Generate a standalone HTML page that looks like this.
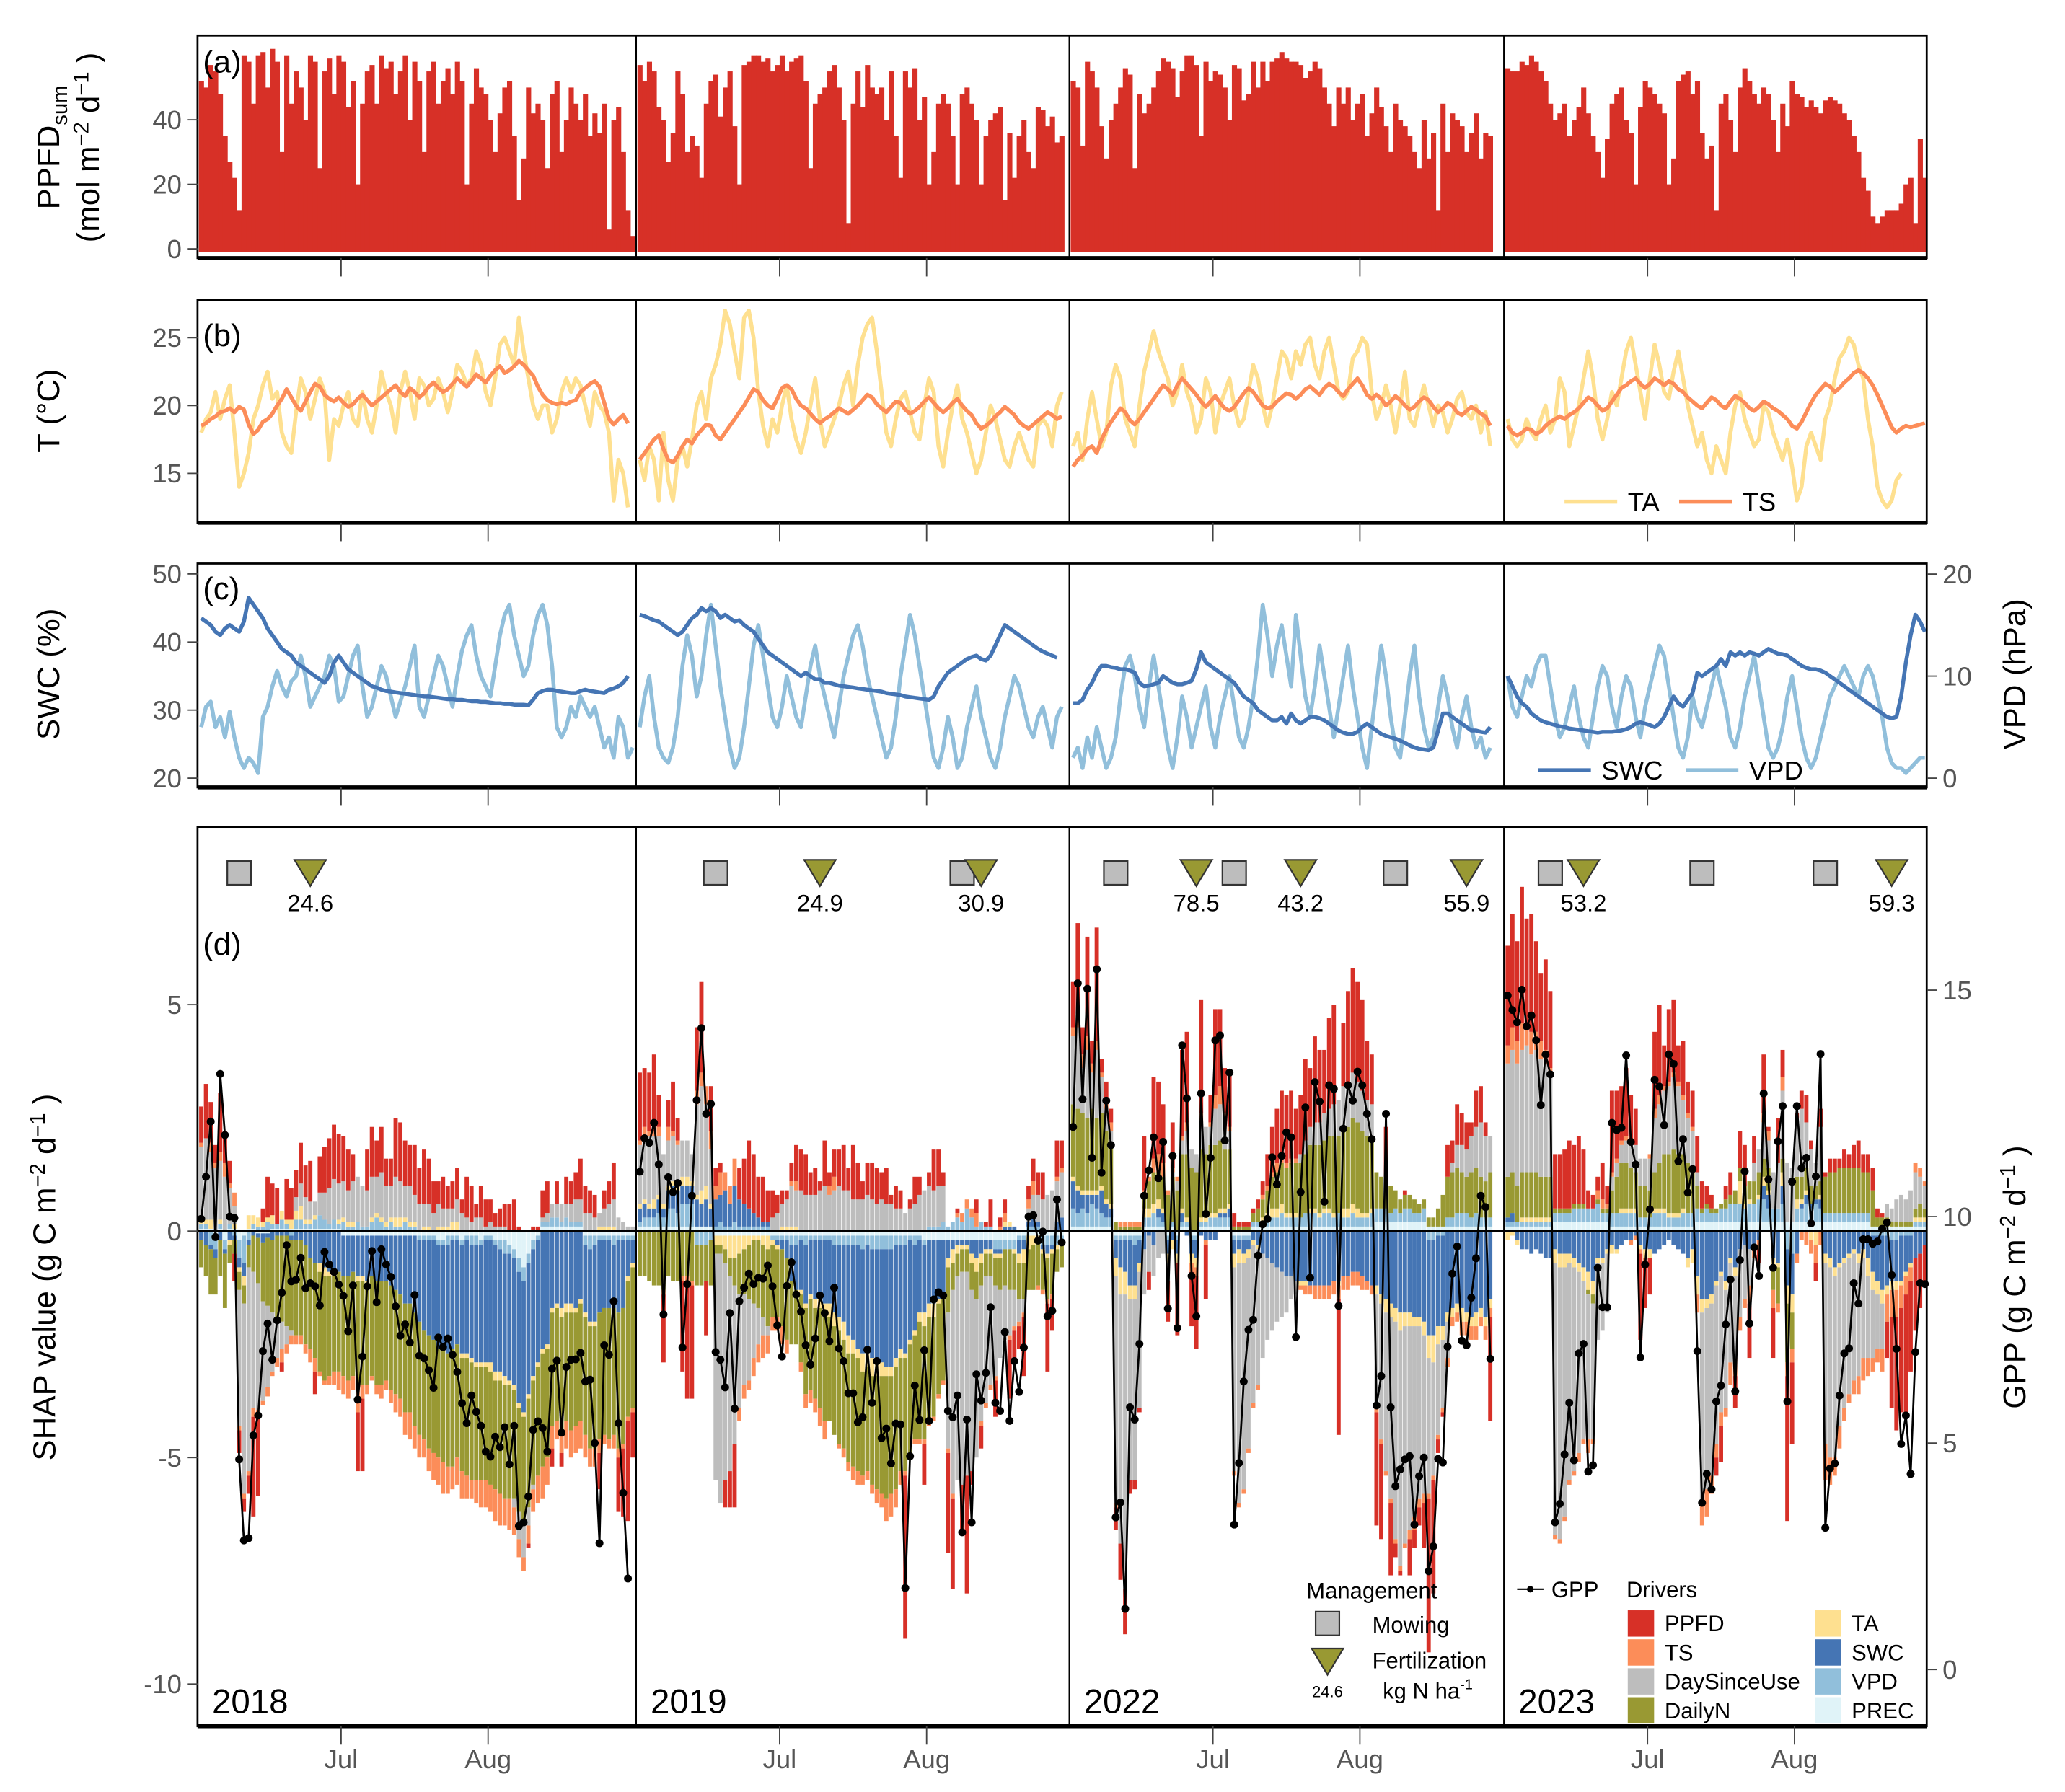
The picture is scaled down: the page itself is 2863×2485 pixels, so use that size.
<!DOCTYPE html>
<html><head><meta charset="utf-8"><style>
html,body{margin:0;padding:0;background:#fff}
svg{display:block;font-family:"Liberation Sans",Arial,sans-serif}
</style></head><body>
<svg id="chart" xmlns="http://www.w3.org/2000/svg" width="2863" height="2485" viewBox="0 0 1568 1361"></svg>
<script>
// ---------- DATA ----------
const years=['2018','2019','2022','2023'];
const monthTicks=['Jul','Aug'];
const monthTickDays=[30,61];
const ppfdTicks=[0,20,40];
const tTicks=[15,20,25];
const swcTicks=[20,30,40,50];
const vpdTicks=[0,10,20];
const shapTicks=[-10,-5,0,5];
const gppTicks=[0,5,10,15];
const GPP_BASE=9.68;

const ppfd18=[52,50,57,55,48,35,27,22,12,60,58,45,60,61,50,62,58,30,60,45,55,50,40,60,58,25,55,59,48,60,58,44,52,20,45,55,57,45,60,56,58,48,55,60,40,58,52,30,55,58,45,52,56,48,58,52,20,45,56,50,48,40,30,42,50,52,35,15,28,50,42,45,40,25,48,52,30,40,50,45,40,48,35,42,36,45,6,40,44,30,12,4];
const ppfd19=[57,52,58,55,44,40,27,36,55,48,30,35,32,22,45,52,54,41,50,55,38,20,57,58,60,60,58,59,55,57,60,55,58,59,60,52,25,45,48,50,55,57,50,40,8,45,55,44,57,50,48,50,40,55,35,22,55,50,56,40,47,20,30,45,48,45,35,20,48,50,45,40,20,35,40,42,44,15,36,22,35,40,30,25,44,43,38,41,33,35];
const ppfd22=[52,50,32,58,55,50,38,28,40,45,50,56,54,25,48,42,45,50,55,59,58,56,47,55,60,60,57,35,58,52,55,54,50,40,57,56,46,48,58,50,58,52,58,59,61,59,58,58,57,53,55,58,56,50,45,38,50,45,50,40,45,48,35,42,50,44,38,30,45,40,38,35,30,25,40,28,36,12,45,30,42,40,38,30,36,42,28,36,35];
const ppfd23=[56,55,55,58,57,60,58,55,52,45,40,42,45,35,40,44,50,42,35,30,22,34,45,48,50,40,36,20,44,52,50,48,45,42,20,28,52,54,55,48,52,36,28,32,12,45,48,40,30,50,56,52,48,45,50,48,40,30,45,38,52,48,47,44,46,44,42,46,47,46,45,42,40,35,30,22,18,10,8,10,12,12,12,14,20,22,8,34,22];

const ta18=[18,19,19.5,21,19,20.5,21.5,18,14,15,16.5,19,20,21.5,22.5,20.5,21,18,17,16.5,19.5,22,21,19,20.5,22,21,16,19,18.5,20,21,19,18.5,21,19,18,20,22.5,21,20,18,21,22.5,21,19,22,21.5,20,20.5,22,21,19.5,21,23,22.5,21.5,22,24,23,21,20,22,24.5,25,24,23,26.5,24,22,20,19,20,20,18,19,21,22,21,22,21.5,20,18.5,21,20,19.5,18,13,16,15,12.5];
const ts18=[18.5,18.7,19.0,19.2,19.5,19.6,19.8,19.5,19.9,19.7,18.6,17.9,18.2,18.8,19.0,19.4,20.0,20.5,21.2,20.6,20.0,19.6,20.3,21.0,21.6,21.4,20.8,20.5,20.3,20.6,20.2,19.9,20.1,20.5,20.8,20.4,20.0,20.3,20.6,20.9,21.2,21.5,21.0,20.7,21.3,21.0,20.6,20.9,21.4,21.7,21.3,21.0,21.2,21.6,22.0,21.7,21.4,21.8,22.3,22.0,21.7,22.2,22.6,22.9,22.4,22.6,22.9,23.3,23.0,22.6,22.2,21.4,20.8,20.4,20.2,20.1,20.2,20.1,20.3,20.4,21.0,21.3,21.6,21.8,21.4,20.2,19.0,18.6,19.0,19.3,18.7];
const ta19=[16,14.5,17,16,13,18,14.5,13,16,17,15.5,17.5,20,21,19,22,23,24.5,27,26,24,22,26.5,27,25,21,18.5,17,19,18,20,21.5,19,17.5,16.5,18,20,22,19,17,18,19,20,21.5,22.5,20,23,25,26,26.5,24,21,18,17,19,20.5,21,19.5,18,17.5,20,22,21,17,15.5,18,20,21.5,19,18,16.5,15,16,18,20,19,17.5,16,15.5,17,18,17,16,15.5,18.5,19,18.5,17,20,21];
const ts19=[16,16.5,17,17.5,17.8,16.8,16,15.8,16.3,17.0,17.5,17.2,17.8,18.2,18.6,18.5,17.8,17.5,18.0,18.5,19.0,19.5,20.0,20.6,21.2,21.0,20.4,20.0,19.8,20.5,21.3,21.5,21.2,20.5,20.0,19.8,19.4,19.0,18.7,19.0,19.2,19.5,19.8,19.6,19.4,19.7,20.0,20.4,20.8,20.6,20.1,19.8,19.5,19.9,20.3,20.2,19.7,19.4,19.6,19.9,20.3,20.6,20.2,19.8,19.5,19.8,20.2,20.5,20.0,19.6,19.3,18.7,18.3,18.5,18.8,19.2,19.5,19.9,19.6,19.3,18.8,18.5,18.3,18.6,18.9,19.2,19.5,19.3,19.0,19.2];
const ta22=[17,18,16,19,21,19,17,18,21.5,23,22,19,18,17,20,22.5,24,25.5,24,23,22,20,21,23,21,20,18,19,22,21,18,20,21,22,20,18.5,19,21,23,22,20,18.5,20,22,24,23.5,22,24,23,24.5,25,23,22,24,25,23,21,20.5,21,23.5,24,25,24.5,21,19,20,21.5,20,18,20,22.5,19,18.5,20,21.5,20,18.5,20,19.5,18,19,20.5,21,19.5,19,20,18,19.5,17];
const ts22=[15.5,16.0,16.3,16.8,17.0,16.5,17.5,18.2,18.8,19.3,19.8,19.5,18.9,18.6,19.0,19.5,20.0,20.5,21.0,21.5,21.2,20.8,21.5,22.0,21.6,21.2,20.8,20.3,19.9,20.3,20.7,20.2,19.8,19.6,19.9,20.4,20.9,21.3,21.0,20.5,20.0,19.8,19.9,20.3,20.6,20.9,20.8,20.5,20.8,21.2,21.4,21.1,20.8,21.3,21.6,21.4,21.0,20.7,21.2,21.6,22.0,21.5,20.8,20.5,20.8,20.5,20.0,20.3,20.7,20.4,20.0,19.7,19.9,20.3,20.6,20.4,19.9,19.5,19.8,20.2,20.0,19.5,19.3,19.6,19.9,19.7,19.4,19.2,18.5];
const ta23=[19,17.5,17,17.5,19,18,17.5,19,20,18,19,22,21,17,18.5,20,22,24,22,19,17.5,19,21,20,22,24,25,23,21,19,22,24.5,23,21,20.5,22.5,24,22,20,18.5,17,18,16,15,17,16,15,18,20,21,19,18,17,17.5,20,19.5,18,17,16,17.5,15.5,13,14,17,18,17,16,19,20,22,23.5,24,25,24.5,23,22,19,17,14,13,12.5,13,14.5,15];
const ts23=[18.5,18.0,17.8,18.0,18.3,18.2,17.9,18.1,18.5,18.8,19.0,19.2,19.0,19.3,19.5,19.8,20.2,20.6,20.4,20.0,19.6,19.8,20.3,20.8,21.3,21.5,21.8,22.0,21.6,21.3,21.6,22.0,21.8,21.5,21.8,21.6,21.2,21.0,20.6,20.3,20.0,19.8,20.2,20.6,20.4,20.0,19.8,20.3,20.7,20.5,20.2,19.8,19.6,19.9,20.3,20.1,19.8,19.6,19.3,19.0,18.5,18.3,18.8,19.5,20.2,20.8,21.2,21.6,21.4,21.0,21.3,21.7,22.0,22.4,22.6,22.4,22.0,21.5,20.8,20.0,19.2,18.4,18.0,18.3,18.5,18.4,18.5,18.6,18.7];

const swc18=[43.5,43,42.5,41.5,41,42,42.5,42,41.5,43,46.5,45.5,44.5,43.5,42,41,40,39,38.5,38,37,36.5,36,35.5,35,34.5,34,35,37,38,37,36,35.5,35,34.5,34,33.5,33.3,33,32.8,32.7,32.6,32.5,32.4,32.3,32.2,32.1,32,32,31.9,31.8,31.7,31.6,31.6,31.5,31.5,31.4,31.3,31.3,31.2,31.2,31.1,31,31,30.9,30.9,30.8,30.8,30.8,30.7,31.5,32.5,32.8,33,33,32.8,32.7,32.6,32.5,32.5,32.8,33,32.8,32.7,32.6,32.5,33,33.2,33.5,34,35];
const vpd18=[5,7,7.5,5,6,4,6.5,4,2,1,2,1.5,0.5,6,7,9,10.5,9,8,9.5,10,12,10,7,8,9,10,12,11,7.5,8,10,12,13,9,6,7,9,11,10,8,6,7.5,9,11,13,7,6,8,10,12,11,9,7,10,12.5,14,15,12,10,9,8,11,14,16,17,14,12,10,11,14,16,17,15,11,5,4,5,7,6,8,7,6,7,5,3,4,2,6,5,2,3];
const swc19=[44,43.8,43.5,43.2,43,42.5,42,41.5,41,41.5,42.5,43.5,44,45,44.5,45,44.5,43.5,44,43.5,43,43.2,42.5,42,41.5,40.5,39.5,38.5,38,37.5,37,36.5,36,35.5,35,35.5,35,34.5,34.5,34,34,33.8,33.6,33.5,33.4,33.3,33.2,33.1,33,32.9,32.8,32.7,32.5,32.4,32.3,32.2,32,31.9,31.8,31.7,31.6,31.5,32,33.5,34.5,35.5,36,36.5,37,37.5,37.8,38,37.5,37.3,38,39.5,41,42.5,42,41.5,41,40.5,40,39.5,39,38.6,38.3,38,37.7];
const vpd19=[5,8,10,6,3,2,1.5,3,6,11,14,12,8,10,14,17,13,9,6,3,1,2,5,9,13,15,12,9,6,5,7,10,8,6,5,8,11,13,10,8,6,4,7,10,12,14,15,13,10,8,6,4,2,3,6,10,13,16,14,11,8,5,2,1,3,6,4,1,2,5,7,9,6,4,2,1,3,6,8,10,9,7,5,4,6,7,5,3,6,7];
const swc22=[31,31,31.5,33,34,35.5,36.5,36.5,36.3,36.2,36,36,35.8,35.5,34,33.5,33.6,33.8,34,35,34.5,34,33.8,33.8,34,34.3,36,38.5,37,36.5,36,35.5,35,34.5,34,33,32,31.5,31,30,29.5,29,28.5,28.5,29,28,29.5,28.5,28,28.5,29,29,28.8,28.5,28,27.5,27,26.7,26.5,26.5,26.8,27.5,28,27.5,27,26.5,26.2,26,25.8,25.5,25.2,24.8,24.5,24.3,24.2,24.1,24.5,27,29.5,29.5,29,28.5,28,27.5,27,27,26.8,26.7,27.5];
const vpd22=[2,3,1,4,2,5,3,1,2,4,8,11,12,10,7,5,9,12,9,6,3,1,4,8,6,3,5,7,9,5,3,6,8,10,7,4,3,5,8,12,17,14,10,13,15,12,9,16,12,8,6,9,13,10,7,4,7,10,13,9,6,3,1,5,9,13,10,6,3,2,6,10,13,8,5,3,4,7,10,8,5,3,6,8,5,3,4,2,3];
const swc23=[35,33.5,32,31,30.5,29.5,29,28.5,28.2,28,27.8,27.6,27.5,27.3,27.2,27.1,27,26.9,26.8,26.7,26.8,26.8,26.8,26.9,27,27.2,27.5,28,28.2,28,27.8,27.5,28,29,30.5,32,31,30.5,31.5,32.5,35.5,35,35.5,36,36.5,37.5,36.5,38.5,38,38.5,38,38.5,38.3,38,38.5,39,38.6,38.3,38.2,38,37.5,37,36.5,36.2,36,36,35.8,35.5,35,34.5,34,33.5,33,32.5,32,31.5,31,30.5,30,29.5,29,28.8,29,32,37,41,44,43,41.5];
const vpd23=[10,7,6,8,10,9,11,12,12,9,6,4,5,7,9,6,4,3,6,9,11,10,7,5,8,10,9,6,4,7,9,11,13,12,9,6,3,2,4,8,6,5,7,9,11,9,7,4,3,5,8,10,12,9,6,3,2,3,5,8,10,7,4,2,1,2,4,6,8,9,10,11,10,9,8,10,11,10,8,6,3,1.5,1,1,0.5,1,1.5,2,2];

// GPP anomaly relative to GPP_BASE (g C m-2 d-1)
const gpp18=[0.27,1.2,2.42,-0.13,3.47,2.12,0.32,0.29,-5.04,-6.83,-6.78,-4.51,-4.07,-2.65,-2.04,-2.84,-1.97,-1.36,-0.31,-1.11,-1.07,-0.59,-1.26,-1.15,-1.22,-1.64,-0.46,-0.74,-0.9,-1.18,-1.43,-2.21,-1.2,-3.72,-2.77,-1.22,-0.44,-1.57,-0.4,-0.74,-1.01,-1.66,-2.31,-2.06,-2.46,-1.41,-2.75,-2.81,-3.07,-3.46,-2.35,-2.56,-2.37,-2.73,-3.11,-3.8,-4.24,-3.63,-3.99,-4.3,-4.87,-4.98,-4.54,-4.77,-4.33,-5.15,-4.3,-6.51,-6.43,-5.86,-4.39,-4.2,-4.35,-4.87,-3.04,-2.86,-4.45,-3.0,-2.84,-2.83,-2.69,-3.32,-3.28,-4.68,-6.89,-2.52,-2.73,-1.55,-4.24,-5.78,-7.67];
const gpp19=[1.31,2.05,1.95,2.39,1.47,-1.84,1.19,0.86,1.06,-2.57,-1.17,0.78,2.89,4.48,2.59,2.81,-2.67,-2.84,-3.45,-1.81,-3.92,-1.55,-1.25,-0.94,-1.17,-1.03,-1.05,-0.76,-1.22,-2.08,-2.77,-1.21,-0.69,-1.4,-1.78,-2.52,-2.95,-2.37,-1.42,-1.81,-2.43,-1.25,-2.59,-2.87,-3.58,-3.58,-4.22,-4.11,-2.62,-3.79,-2.87,-4.57,-4.36,-5.13,-4.25,-4.27,-7.88,-4.97,-3.41,-4.17,-2.63,-4.19,-1.51,-1.35,-1.42,-3.97,-4.11,-3.63,-6.65,-4.16,-6.43,-3.16,-3.74,-3.13,-1.68,-3.79,-3.97,-2.23,-4.19,-2.87,-3.55,-2.57,0.32,0.35,-0.21,-0.01,-1.88,-1.76,0.7,-0.25];
const gpp22=[2.3,5.47,2.91,5.35,1.62,5.78,1.29,2.88,1.9,-6.32,-5.99,-8.34,-3.89,-4.16,-2.49,0.78,1.34,2.07,1.17,1.97,-1.71,1.66,-2.14,4.1,2.93,-0.99,-1.88,3.04,0.38,1.62,4.21,4.32,2.0,3.5,-6.48,-5.12,-3.32,-2.18,-1.96,-0.54,0.15,0.27,1.63,1.03,1.66,2.18,2.07,-2.34,0.86,2.73,-1.03,3.29,2.86,0.65,3.22,3.14,-1.65,2.26,3.22,2.88,3.52,3.22,2.59,2.03,-3.85,-3.2,2.59,-3.89,-5.63,-5.26,-5.04,-4.97,-6.48,-5.41,-5.0,-7.51,-6.96,-5.03,-5.11,-2.55,-0.94,-0.34,-2.42,-2.52,-1.47,-0.6,0.78,0.53,-2.82];
const gpp23=[5.2,4.88,4.61,5.33,4.52,4.76,4.21,2.78,3.9,3.46,-6.43,-6.02,-4.93,-3.79,-5.06,-2.7,-2.49,-5.31,-5.17,-0.81,-1.68,-1.68,2.39,2.23,2.28,3.88,1.97,1.47,-2.79,-0.74,0.48,3.34,3.19,2.34,3.9,3.69,1.54,2.03,0.85,1.37,-2.65,-6.0,-5.36,-5.7,-3.76,-3.41,-2.06,-1.07,-3.54,-0.64,1.32,-2.04,-0.36,-0.99,3.04,1.14,-0.81,1.98,2.76,-3.76,1.09,2.76,1.39,1.62,0.17,1.21,3.91,-6.55,-5.24,-5.13,-3.63,-2.7,-2.59,-1.15,-1.6,-0.18,-0.18,-0.28,-0.23,0.05,0.19,-0.97,-2.6,-4.7,-4.07,-5.36,-2.67,-1.15,-1.17];

// SHAP values per driver (g C m-2 d-1)
const s18_ppfd=[0.8,1.2,0.9,0.4,1.3,0.7,0.5,-0.6,-0.5,-0.3,-0.4,-2.2,-1.8,0.3,0.9,0.7,0.8,-0.2,0.9,0.7,0.6,0.9,0.7,0.9,-0.5,0.8,1.0,1.1,1.2,1.1,1.0,0.9,0.6,-1.3,-1.6,0.9,1.1,0.8,1.0,0.6,0.6,1.3,1.3,1.0,0.9,1.1,0.8,1.2,1.0,0.7,0.5,0.7,0.5,0.6,0.7,0.3,0.9,0.8,0.3,0.7,0.6,0.5,0.3,0.4,0.5,0.6,0.7,0.1,0.0,-0.1,0.1,0.1,0.6,0.7,-0.4,0.5,-0.3,0.6,0.5,0.6,0.9,0.6,0.5,0.5,-0.8,0.4,0.5,0.8,-1.2,-1.5,-2.2,-1.0];
const s18_dsu=[1.6,1.8,1.5,1.4,1.3,1.2,0.8,0.4,-3.0,-4.2,-4.5,-3.0,-2.8,-2.2,-1.8,-1.3,-0.9,-0.6,-0.4,-0.1,0.3,0.5,0.5,0.4,0.3,0.5,0.6,0.8,0.9,0.8,0.8,0.7,0.9,1.0,0.9,0.8,0.9,0.8,1.0,0.8,0.7,0.9,0.8,0.7,0.8,0.6,0.6,0.5,0.5,0.4,0.5,0.4,0.4,0.3,0.5,0.4,0.3,0.2,0.3,0.3,0.1,0.2,0.1,0.1,0.1,0.0,-0.2,-0.6,-0.7,-0.4,-0.1,0.0,0.1,0.2,0.3,0.3,0.4,0.3,0.4,0.5,0.5,0.4,0.4,0.3,0.3,0.4,0.5,0.6,0.3,0.2,0.1,0.1];
const s18_dn=[-0.6,-0.7,-1.0,-0.8,-0.8,-1.2,-0.4,-0.3,-0.4,-0.4,-0.5,-0.8,-1.0,-1.3,-1.5,-1.6,-1.8,-1.9,-2.0,-2.0,-2.1,-2.1,-2.2,-2.0,-2.1,-2.2,-2.3,-2.2,-2.1,-2.2,-2.2,-2.3,-2.3,-2.4,-2.3,-2.2,-2.2,-2.3,-2.3,-2.2,-2.3,-2.3,-2.3,-2.4,-2.4,-2.5,-2.5,-2.4,-2.5,-2.5,-2.4,-2.5,-2.5,-2.6,-2.5,-2.5,-2.6,-2.6,-2.5,-2.5,-2.5,-2.5,-2.4,-2.5,-2.5,-2.5,-2.4,-2.3,-2.4,-2.4,-2.3,-2.4,-2.5,-2.4,-2.5,-2.5,-2.5,-2.4,-2.6,-2.5,-2.6,-2.6,-2.7,-2.7,-2.8,-2.8,-2.9,-2.8,-3.0,-3.0,-3.0,-3.1];
const s18_swc=[-0.2,-0.3,-0.1,-0.2,-0.2,-0.1,-0.2,-0.1,-0.2,-0.3,-0.1,-0.1,-0.1,-0.2,-0.1,-0.2,-0.1,-0.1,-0.1,-0.1,-0.2,-0.2,-0.3,-0.6,-0.7,-0.7,-0.8,-0.9,-0.9,-0.9,-0.9,-0.9,-0.8,-0.9,-0.9,-1.0,-0.9,-1.0,-1.0,-1.0,-1.1,-1.2,-1.3,-1.5,-1.5,-1.7,-1.8,-2.0,-2.1,-2.2,-2.3,-2.3,-2.4,-2.4,-2.3,-2.4,-2.5,-2.5,-2.6,-2.6,-2.7,-2.7,-2.8,-2.7,-2.7,-2.8,-2.8,-2.9,-2.9,-2.9,-2.8,-2.7,-2.6,-2.5,-1.7,-1.6,-1.7,-1.6,-1.6,-1.7,-1.5,-1.5,-1.6,-1.7,-1.6,-1.5,-1.5,-1.4,-1.6,-1.5,-0.8,-0.5];
const s18_ts=[0.1,0.0,0.2,0.1,0.2,0.3,0.1,0.3,-0.1,-0.1,-0.1,-0.2,-0.1,-0.1,-0.2,-0.1,-0.2,-0.3,-0.2,-0.2,-0.2,-0.2,-0.2,-0.3,-0.3,-0.1,-0.1,-0.2,-0.3,-0.4,-0.4,-0.4,-0.3,-0.5,-0.3,-0.2,-0.1,-0.2,-0.3,-0.2,-0.3,-0.4,-0.4,-0.5,-0.6,-0.5,-0.5,-0.4,-0.5,-0.6,-0.6,-0.7,-0.6,-0.5,-0.6,-0.6,-0.5,-0.4,-0.5,-0.6,-0.6,-0.6,-0.7,-0.7,-0.6,-0.7,-0.6,-0.4,-0.3,-0.4,-0.5,-0.6,-0.7,-0.6,-0.5,-0.4,-0.5,-0.6,-0.6,-0.6,-0.6,-0.5,-0.4,-0.4,-0.3,-0.2,-0.2,-0.3,-0.2,-0.1,-0.1,-0.1];
const s18_ta=[0.1,0.1,0.2,0.0,0.1,0.0,-0.1,0.1,-0.1,-0.2,0.3,0.2,0.2,0.1,0.1,0.2,0.0,0.2,0.1,0.2,0.2,0.3,0.1,0.1,0.1,-0.2,-0.2,-0.1,-0.1,0.1,0.1,0.1,0.1,-0.1,-0.1,-0.1,0.1,0.1,0.1,0.1,0.1,0.2,0.2,0.1,0.1,0.1,0.0,0.1,0.1,0.0,0.1,0.1,0.1,0.2,0.2,-0.1,-0.1,-0.1,-0.1,-0.1,-0.1,-0.2,-0.2,-0.2,-0.2,-0.1,-0.1,-0.1,-0.1,-0.1,-0.1,-0.1,-0.1,-0.1,-0.1,-0.1,-0.2,-0.2,-0.2,-0.1,-0.1,-0.1,-0.1,-0.1,0.1,0.1,0.1,0.1,0.0,0.0,-0.1,-0.1];
const s18_vpd=[0.1,0.1,-0.3,-0.3,0.1,-0.2,0.1,-0.1,-0.4,-0.6,-0.2,0.1,0.1,0.1,0.2,0.1,0.1,0.2,0.1,-0.1,0.2,0.2,0.1,0.1,0.2,0.3,0.2,0.1,0.2,0.1,0.2,0.1,0.1,0.2,0.1,0.1,0.2,0.3,0.2,0.1,0.2,0.1,0.1,0.2,0.1,0.1,-0.1,-0.1,-0.1,-0.1,-0.1,-0.1,-0.2,-0.1,-0.1,-0.1,-0.1,-0.2,-0.2,-0.1,-0.1,-0.1,-0.1,-0.2,-0.3,-0.2,-0.2,-0.3,-0.3,-0.2,-0.2,-0.1,0.1,0.1,0.2,0.2,0.1,0.2,0.1,0.1,0.1,-0.2,-0.3,-0.2,-0.1,-0.1,-0.1,-0.2,-0.1,-0.1,-0.1,-0.1];
const s18_prec=[0.05,0.05,0.05,-0.1,0.05,-0.2,0.05,0.05,-0.2,-0.1,0.05,0.05,-0.05,-0.05,-0.05,0.05,0.05,0.05,0.05,0.05,0.05,0.05,0.05,0.05,0.05,0.05,0.05,0.05,0.05,0.05,-0.1,-0.1,-0.1,-0.1,-0.1,-0.1,-0.1,-0.1,-0.1,-0.1,-0.1,-0.1,-0.1,-0.1,-0.1,-0.1,-0.1,-0.1,-0.1,-0.1,-0.2,-0.2,-0.1,-0.1,-0.1,-0.2,-0.1,-0.1,-0.1,-0.2,-0.1,-0.1,-0.2,-0.2,-0.2,-0.3,-0.4,-0.6,-0.8,-0.5,-0.2,-0.1,0.1,0.1,0.1,0.1,0.1,0.1,0.1,0.1,0.1,-0.1,-0.1,-0.1,-0.1,-0.1,-0.1,-0.1,-0.1,-0.1,-0.1,-0.1];

const s19_ppfd=[1.5,1.3,1.3,1.7,0.7,-1.5,0.6,1.1,0.5,-2.0,-2.6,-2.5,1.4,2.0,-1.2,1.0,0.4,0.2,-0.6,-0.8,-1.4,0.7,1.0,1.5,1.3,0.9,1.0,0.7,0.6,0.4,0.3,0.2,0.4,0.8,0.9,0.9,0.5,0.6,0.2,1.0,0.3,0.6,0.8,1.0,0.5,1.2,0.8,0.4,0.7,0.8,0.8,0.6,0.8,0.2,0.5,0.4,-3.6,0.2,0.6,0.4,-0.9,0.3,0.9,0.8,0.3,-2.2,-2.0,0.1,-1.1,-2.6,-0.3,0.3,-0.5,0.1,0.6,-0.8,0.2,0.3,-1.3,-0.6,-0.5,-1.3,0.3,0.5,0.5,0.6,-1.5,-0.7,0.8,0.6];
const s19_dsu=[1.3,1.4,1.5,1.4,1.3,1.1,1.0,1.0,0.9,0.8,0.8,0.6,2.0,2.3,1.8,1.2,-5.0,-5.5,-4.8,-4.3,-3.5,-2.5,-2.0,-1.8,-1.2,-0.8,-0.4,-0.2,0.3,0.4,0.5,0.6,0.9,0.8,0.9,0.8,0.8,0.8,0.9,1.0,0.8,0.9,1.0,0.9,0.9,0.7,0.7,0.7,0.8,0.7,0.6,0.7,0.6,0.6,0.5,0.5,0.4,0.5,0.6,0.8,0.9,0.9,0.8,0.9,0.8,-3.0,-4.5,-4.5,-4.7,-4.5,-4.0,-3.5,-3.0,-2.8,-2.4,-2.0,-1.5,-1.2,-1.0,-0.8,-0.5,-0.3,0.3,0.5,0.6,0.7,0.8,0.9,0.9,1.0];
const s19_dn=[-1.0,-1.0,-1.1,-1.2,-1.2,-1.3,-1.0,-1.1,-1.1,-1.0,-1.0,-1.1,-0.9,-0.9,-0.8,-1.0,-0.2,-0.2,-0.3,-0.4,-0.6,-0.9,-1.0,-1.2,-1.4,-1.5,-1.6,-1.7,-1.6,-1.5,-1.7,-1.8,-1.4,-1.2,-1.5,-1.9,-2.0,-2.0,-2.2,-2.3,-2.3,-2.4,-2.5,-2.4,-2.4,-2.5,-2.5,-2.3,-2.3,-2.4,-2.5,-2.6,-2.7,-2.6,-2.7,-2.5,-2.5,-2.4,-2.3,-2.6,-2.5,-2.3,-2.2,-2.0,-1.8,-1.0,-0.6,-0.5,-0.5,-0.5,-0.6,-0.6,-0.5,-0.5,-0.5,-0.6,-0.7,-0.8,-0.9,-0.8,-0.8,-0.8,-0.9,-1.0,-1.0,-0.8,-0.9,-0.9,-0.5,-0.5];
const s19_swc=[0.3,0.3,0.2,0.2,0.3,0.2,0.4,0.5,0.5,0.4,0.4,0.4,0.6,0.5,0.6,0.4,0.6,0.6,0.8,0.5,0.8,0.6,0.5,0.4,0.3,0.2,0.1,0.1,0.0,-0.1,-0.2,-0.4,-0.8,-1.0,-1.1,-1.3,-1.2,-1.3,-1.3,-1.4,-1.4,-1.5,-1.6,-1.7,-2.0,-2.1,-2.3,-2.3,-2.4,-2.4,-2.5,-2.5,-2.6,-2.6,-2.5,-2.3,-2.4,-2.2,-1.9,-1.6,-1.5,-1.4,-1.4,-1.3,-1.2,-0.4,-0.2,-0.1,-0.1,-0.1,-0.3,-0.4,-0.3,-0.2,-0.2,-0.1,-0.1,0.1,0.1,0.1,-0.3,-0.2,0.1,0.2,0.1,-0.1,-0.2,-0.1,0.2,0.3];
const s19_ts=[0.1,0.2,0.1,0.1,0.2,-0.1,0.3,0.1,0.1,-0.1,-0.1,-0.1,0.3,0.3,0.4,0.4,0.3,0.5,0.4,0.4,0.6,-0.3,-0.3,-0.2,-0.4,-0.4,-0.5,-0.4,-0.3,-0.3,-0.4,-0.3,0.1,0.2,-0.2,-0.3,-0.3,-0.3,-0.4,-0.4,0.2,0.3,-0.1,-0.2,-0.2,-0.3,-0.3,-0.2,-0.2,-0.2,-0.3,-0.3,-0.5,-0.5,-0.4,-0.3,-0.1,-0.1,-0.1,-0.1,-0.1,-0.1,-0.1,-0.1,-0.1,-0.1,-0.1,0.1,0.2,0.2,0.2,0.3,-0.1,-0.1,-0.1,-0.1,0.1,0.2,-0.1,-0.1,-0.1,-0.1,0.2,0.3,-0.1,-0.1,-0.1,-0.1,0.1,0.1];
const s19_ta=[0.1,0.1,0.1,0.2,0.1,0.1,0.1,0.1,0.1,0.2,0.2,0.1,0.1,0.3,0.3,0.1,-0.2,-0.2,-0.3,-0.5,-0.5,-0.4,-0.3,-0.2,-0.1,-0.1,-0.2,-0.3,-0.1,-0.1,0.1,0.1,0.1,0.1,-0.1,-0.1,-0.1,-0.2,-0.2,-0.3,-0.3,-0.3,-0.3,-0.4,-0.4,-0.3,-0.2,-0.4,-0.3,-0.4,-0.3,-0.3,-0.2,-0.2,-0.2,-0.2,-0.1,-0.1,-0.1,-0.2,-0.3,-0.3,-0.3,-0.1,-0.1,-0.2,-0.3,-0.2,-0.1,-0.1,-0.2,-0.3,-0.2,-0.1,-0.1,-0.1,-0.1,0.1,0.1,-0.1,-0.2,-0.3,-0.3,-0.2,-0.1,-0.1,-0.1,-0.1,-0.1,-0.1];
const s19_vpd=[0.1,0.2,0.2,0.2,0.3,0.2,0.4,0.4,0.3,0.5,0.5,0.5,-0.3,-0.3,-0.3,-0.2,0.1,0.2,0.1,0.1,0.2,0.1,0.1,0.1,0.1,0.1,0.1,0.1,-0.1,-0.1,-0.1,-0.1,-0.2,-0.2,-0.1,-0.2,-0.1,-0.1,-0.1,-0.1,-0.1,-0.2,-0.2,-0.2,-0.2,-0.2,-0.2,-0.3,-0.2,-0.3,-0.3,-0.3,-0.3,-0.3,-0.2,-0.2,-0.2,-0.1,-0.2,-0.1,-0.1,0.1,0.1,0.1,0.2,0.1,0.2,0.3,0.2,0.5,0.3,0.1,0.2,0.1,0.1,-0.2,-0.2,-0.2,-0.2,-0.2,-0.1,-0.1,0.1,0.1,0.1,-0.2,-0.2,-0.2,-0.2,-0.1];
const s19_prec=[0.1,0.1,0.1,0.1,0.1,0.1,0.1,0.1,0.1,0.1,0.1,0.1,0.1,0.1,0.1,0.1,-0.1,-0.1,-0.1,-0.1,-0.1,-0.1,-0.1,-0.1,-0.1,-0.1,-0.1,-0.1,-0.1,-0.1,-0.1,-0.1,-0.1,-0.1,-0.1,-0.1,-0.1,-0.1,-0.1,-0.1,-0.1,-0.1,-0.1,-0.1,-0.1,-0.1,-0.1,-0.1,-0.1,-0.1,-0.1,-0.1,-0.1,-0.1,-0.1,-0.1,-0.1,-0.1,-0.1,-0.1,-0.2,-0.2,-0.2,-0.2,-0.2,-0.2,-0.2,-0.2,-0.2,-0.2,-0.2,-0.2,-0.2,-0.2,-0.2,-0.2,-0.2,-0.2,-0.2,-0.2,-0.1,-0.1,-0.1,-0.1,-0.1,-0.1,-0.1,-0.1,-0.1,-0.1];

const s22_ppfd=[1.0,2.0,0.6,2.2,0.5,2.5,0.3,0.5,0.3,-0.5,-0.8,-1.0,-0.3,-0.2,-0.1,1.2,-0.4,1.8,1.6,1.3,-0.9,1.0,-1.6,1.9,2.0,-1.2,-1.6,2.5,-1.2,0.6,1.9,1.7,1.0,1.2,0.3,0.1,0.1,0.1,0.1,0.2,0.3,0.7,1.0,1.2,1.4,1.5,1.5,1.1,1.3,1.8,1.3,1.9,1.6,1.4,2.0,2.2,-3.0,1.4,2.1,2.3,2.2,2.0,1.3,1.1,-2.5,-2.1,1.1,-1.6,-0.3,-0.1,0.1,-0.8,-0.4,-0.4,-1.0,-3.4,-2.5,-0.3,-0.1,0.7,0.5,0.9,0.7,0.6,0.3,0.8,0.8,0.3,-2.3];
const s22_dsu=[1.5,1.8,1.0,1.5,0.8,1.5,0.8,0.5,0.3,-5.0,-5.5,-6.5,-4.0,-4.0,-3.0,-1.0,-0.8,-0.7,-0.6,-0.5,-0.4,0.1,0.2,0.3,0.5,0.4,0.4,0.5,0.6,0.4,0.8,0.8,0.6,0.4,-4.5,-5.3,-5.0,-4.2,-3.5,-3.0,-2.3,-1.8,-1.5,-1.2,-1.0,-0.8,-0.5,-0.3,0.2,0.3,0.4,0.5,0.5,0.6,0.6,0.7,0.8,0.9,0.9,1.0,0.9,0.9,0.8,0.7,-2.5,-3.0,-3.5,-4.0,-4.8,-5.2,-4.8,-4.5,-4.2,-3.8,-3.5,-3.0,-2.5,-2.0,-1.5,-0.8,0.2,0.5,0.6,0.6,0.8,0.9,1.2,1.0,0.8];
const s22_dn=[1.6,1.7,1.7,1.6,1.8,1.6,1.6,1.5,1.3,0.2,0.1,0.1,0.1,0.1,0.1,0.3,0.6,0.7,0.6,0.7,0.8,1.0,0.9,1.2,1.4,1.4,1.3,1.5,1.4,1.5,1.5,1.5,1.3,1.2,0.1,0.1,0.1,0.1,0.2,0.3,0.4,0.5,0.7,0.8,0.9,1.0,1.1,1.1,1.2,1.3,1.4,1.4,1.5,1.5,1.6,1.7,1.7,1.8,1.8,1.9,1.9,1.8,1.7,1.6,0.8,0.7,0.7,0.6,0.4,0.3,0.3,0.3,0.3,0.2,0.2,0.2,0.2,0.4,0.7,0.9,1.0,1.0,0.9,0.8,1.0,1.0,0.9,0.8,1.0];
const s22_swc=[0.6,0.5,0.3,0.4,0.2,0.3,0.5,0.3,0.2,-0.4,-0.6,-0.7,-1.0,-0.9,-0.5,-0.4,-0.1,-0.3,0.2,0.2,-0.3,-0.2,-0.3,0.2,-0.1,-0.3,-0.4,-0.1,-0.2,-0.2,-0.2,0.1,0.1,0.2,-0.3,-0.2,-0.3,-0.2,-0.2,-0.3,-0.5,-0.6,-0.7,-0.8,-0.9,-1.0,-1.0,-1.1,-1.1,-1.1,-1.2,-1.2,-1.2,-1.2,-1.2,-1.1,-1.1,-1.0,-1.0,-0.9,-0.9,-1.0,-1.1,-1.2,-1.2,-1.4,-1.5,-1.6,-1.7,-1.8,-1.8,-1.8,-1.9,-1.9,-2.0,-2.1,-2.1,-2.0,-2.0,-1.8,-1.7,-1.6,-1.7,-1.8,-1.9,-1.8,-1.7,-1.9,-1.5];
const s22_ts=[0.2,0.3,0.3,0.3,0.2,0.2,0.1,0.1,0.2,-0.1,0.1,0.1,0.1,0.1,0.1,0.1,0.1,0.3,0.4,0.3,0.1,0.1,0.1,0.1,0.2,-0.2,-0.2,0.3,-0.1,0.1,0.3,0.4,0.2,0.1,-0.1,-0.1,-0.1,-0.1,-0.1,-0.1,0.1,0.1,0.1,0.2,0.2,0.1,0.1,0.1,-0.1,-0.2,-0.2,-0.3,-0.3,-0.3,-0.3,-0.3,-0.3,-0.3,-0.3,-0.3,-0.3,-0.3,-0.2,-0.2,-0.1,-0.1,-0.1,-0.1,-0.1,-0.1,-0.1,-0.2,-0.3,-0.2,-0.2,-0.1,-0.1,-0.1,-0.1,-0.2,-0.2,-0.2,-0.3,-0.3,-0.3,-0.3,-0.2,-0.3,-0.2];
const s22_ta=[0.1,0.1,0.1,0.1,0.1,0.1,0.1,0.1,0.1,-0.4,-0.6,-0.5,-0.3,-0.3,-0.2,0.2,0.2,0.2,0.2,0.1,-0.2,-0.2,-0.2,0.1,0.1,-0.2,-0.2,0.1,0.1,0.1,0.1,0.1,0.1,0.1,-0.3,-0.3,-0.2,-0.2,-0.1,-0.1,0.1,0.1,0.2,0.2,0.2,0.1,0.1,0.1,-0.1,-0.1,0.1,0.1,0.1,0.1,0.1,0.1,-0.1,0.2,0.2,0.2,0.2,0.1,0.1,0.1,-0.2,-0.2,-0.3,-0.3,-0.3,-0.4,-0.3,-0.3,-0.2,-0.2,-0.3,-0.5,-0.6,-0.4,-0.3,-0.2,-0.2,-0.2,-0.3,-0.2,-0.2,-0.3,-0.2,-0.2,-0.2];
const s22_vpd=[0.4,0.3,0.4,0.3,0.5,0.4,0.3,0.2,0.2,-0.1,-0.1,-0.1,-0.1,-0.2,-0.1,0.2,0.2,0.3,0.2,0.1,-0.1,0.1,-0.1,0.1,0.1,-0.1,-0.1,0.1,0.1,0.2,0.2,0.2,0.2,0.2,-0.1,-0.1,-0.1,-0.1,0.1,0.1,0.1,0.2,0.2,0.2,0.3,0.2,0.2,0.2,0.2,0.3,0.3,0.3,0.2,0.3,0.3,0.2,0.3,0.2,0.2,0.3,0.2,0.2,0.2,0.3,0.3,0.3,0.3,0.2,0.3,0.2,0.3,0.3,0.2,0.2,0.3,-0.2,-0.2,-0.1,-0.1,0.2,0.2,0.3,0.3,0.3,0.2,0.3,0.2,0.2,0.2];
const s22_prec=[0.1,0.1,0.1,0.1,0.1,0.1,0.1,0.1,0.1,-0.1,-0.1,-0.1,-0.1,-0.1,-0.1,0.1,0.1,0.1,0.1,0.1,-0.1,0.1,-0.1,0.1,0.1,-0.1,-0.1,0.1,0.1,0.1,0.1,0.1,0.1,0.1,-0.1,-0.1,-0.1,-0.1,0.1,0.1,0.1,0.1,0.1,0.1,0.1,0.1,0.1,0.1,0.1,0.1,0.1,0.1,0.1,0.1,0.1,0.1,0.1,0.1,0.1,0.1,0.1,0.1,0.1,0.1,0.2,0.2,0.2,0.2,0.2,0.2,0.2,0.2,0.2,0.2,0.2,0.1,0.1,0.1,0.1,0.1,0.1,0.1,0.1,0.1,0.1,0.1,0.1,0.1,0.1];

const s23_ppfd=[2.2,2.5,2.2,3.0,2.4,2.6,2.0,1.5,2.0,1.7,1.2,1.2,1.3,1.5,1.3,1.5,1.2,0.4,0.3,0.3,0.8,0.4,1.8,1.5,1.2,1.5,1.0,0.8,-1.9,-1.0,-0.8,1.7,2.0,0.9,1.6,1.6,0.8,1.2,0.7,0.8,0.8,0.6,0.4,0.3,-0.4,-0.8,0.3,0.5,-0.7,0.8,0.9,-1.2,0.6,-0.3,1.3,0.1,-1.1,1.0,0.6,-3.2,-1.8,0.1,0.4,0.6,0.2,-0.4,0.4,0.1,0.3,0.3,0.2,0.4,0.3,0.5,0.6,0.4,0.4,0.5,0.2,0.1,-0.8,-2.0,-2.5,-2.3,-2.7,-2.0,-1.6,-1.2,-0.8];
const s23_dsu=[2.5,2.7,2.7,2.7,2.8,2.6,2.7,2.6,2.5,2.2,-6.0,-6.0,-5.5,-4.8,-4.5,-4.0,-3.5,-3.2,-3.0,-1.7,-1.5,-1.3,0.3,0.3,0.4,0.5,0.6,0.6,0.6,0.6,0.7,1.2,1.3,1.4,1.5,1.6,1.5,1.2,1.0,0.8,0.3,-4.2,-4.0,-3.8,-3.5,-3.0,-2.6,-2.2,-1.8,-1.5,-1.2,-0.8,0.4,0.5,0.8,0.6,0.8,1.0,1.5,1.3,1.2,1.3,1.5,1.0,0.8,0.5,1.2,-4.0,-4.2,-4.0,-3.5,-3.2,-3.0,-2.8,-2.5,-2.2,-1.8,-1.5,-1.2,-1.0,0.3,0.3,0.5,0.6,0.5,0.7,0.8,0.6,0.5];
const s23_dn=[0.9,0.9,0.8,1.0,1.0,1.0,1.0,0.9,0.9,0.9,0.1,0.1,0.1,0.1,0.1,0.1,0.1,-0.1,-0.2,0.1,0.1,0.1,0.5,0.8,1.0,1.0,0.9,0.8,0.7,0.7,0.6,0.8,1.0,1.2,1.3,1.4,1.3,1.2,1.1,1.0,0.5,0.1,0.1,0.1,0.1,0.1,0.2,0.2,0.3,0.3,0.4,0.4,0.5,0.5,0.4,0.5,-0.5,-0.8,0.3,-1.3,-0.8,0.5,0.5,0.5,0.4,0.3,0.3,0.8,0.9,0.9,1.0,1.0,1.0,1.0,1.0,0.9,0.9,0.8,0.2,0.2,0.2,0.1,0.1,0.1,0.1,0.1,0.2,0.3,0.2];
const s23_swc=[0.1,0.2,-0.2,-0.4,-0.4,-0.5,-0.4,-0.5,-0.6,-0.6,-0.4,-0.5,-0.5,-0.5,-0.6,-0.7,-0.8,-0.9,-1.1,-0.6,-0.6,-0.4,-0.3,-0.4,-0.3,-0.2,-0.2,-0.1,-0.3,-0.4,-0.4,-0.5,-0.4,-0.3,-0.2,-0.3,-0.4,-0.5,-0.6,-0.4,-1.0,-1.5,-1.5,-1.4,-1.1,-0.9,-1.1,-0.6,-0.8,-0.4,-0.3,-0.4,-0.3,-0.2,0.3,0.3,-0.6,-0.7,0.4,-0.8,-0.9,-0.5,0.1,0.2,0.1,0.1,0.2,-0.5,-0.6,-0.8,-0.7,-0.6,-0.5,-0.4,-0.5,-0.4,-0.6,-0.8,-1.0,-1.2,-1.1,-0.9,-0.9,-1.0,-0.8,-0.6,-0.6,-0.5,-0.3];
const s23_ts=[0.4,0.5,0.5,0.6,0.4,0.5,0.4,0.4,0.3,0.2,-0.1,-0.1,-0.1,-0.1,-0.1,-0.2,-0.1,-0.3,-0.1,0.2,0.2,0.1,0.1,0.1,0.1,0.1,-0.1,-0.1,-0.1,-0.1,0.1,0.2,0.2,0.1,0.1,0.1,0.1,0.1,0.1,0.1,-0.4,-0.5,-0.6,-0.4,-0.3,-0.3,-0.2,-0.5,-0.4,-0.3,-0.2,-0.4,-0.2,-0.2,0.2,0.2,-0.4,-0.2,0.3,-0.3,-0.3,-0.2,-0.2,-0.3,-0.3,-0.4,-0.3,-0.8,-0.6,-0.4,-0.5,-0.3,-0.2,-0.3,-0.4,-0.5,-0.4,-0.3,-0.3,-0.5,-0.6,-0.6,-0.6,-0.5,-0.4,-0.3,0.2,0.2,0.1];
const s23_ta=[-0.2,-0.1,-0.1,0.1,0.1,0.1,0.1,0.1,0.1,0.1,-0.3,-0.3,-0.3,-0.2,-0.2,-0.2,-0.3,-0.4,-0.3,-0.1,-0.1,-0.1,-0.2,-0.1,0.1,0.1,0.1,0.1,-0.1,-0.2,-0.2,0.1,0.1,0.1,0.1,0.1,0.1,0.1,-0.2,-0.3,-0.4,-0.3,-0.2,-0.2,-0.1,-0.1,-0.2,-0.1,-0.2,0.5,0.1,0.1,-0.1,0.1,0.2,0.1,-0.2,-0.1,0.3,-0.4,-0.4,0.2,0.1,0.1,-0.2,-0.3,0.1,-0.2,-0.2,-0.2,-0.1,-0.1,-0.1,-0.1,-0.2,-0.2,-0.4,-0.4,-0.3,-0.3,-0.2,-0.2,-0.2,-0.1,-0.1,-0.1,0.1,0.1,0.1];
const s23_vpd=[0.1,0.1,0.1,0.1,0.1,0.1,0.1,0.1,0.1,0.1,0.2,0.2,0.2,0.2,0.3,0.3,0.3,0.3,0.3,0.4,0.2,0.2,0.3,0.3,0.3,0.3,0.3,0.3,0.2,0.2,0.2,0.3,0.3,0.3,0.2,0.2,0.2,0.3,0.3,0.3,0.3,0.2,0.3,0.2,0.2,0.3,0.3,0.4,0.4,0.4,0.3,0.4,0.4,0.5,0.5,0.3,0.3,0.3,0.4,-0.4,-0.5,0.3,0.3,0.4,0.3,0.4,0.3,0.2,0.2,0.2,0.2,0.2,0.2,0.2,0.2,0.2,0.2,-0.1,-0.1,-0.1,-0.1,-0.2,-0.2,-0.1,-0.1,-0.1,0.1,0.1,0.1];
const s23_prec=[0.1,0.1,0.1,0.1,0.1,0.1,0.1,0.1,0.1,0.1,0.2,0.2,0.2,0.2,0.2,0.2,0.2,0.2,0.2,0.2,0.2,0.2,0.1,0.1,0.1,0.1,0.1,0.1,0.1,0.1,0.1,0.1,0.1,0.1,0.1,0.1,0.1,0.1,0.1,0.1,0.2,0.2,0.2,0.2,0.2,0.2,0.2,0.2,0.2,0.2,0.2,0.2,0.2,0.2,0.2,0.2,0.2,0.2,0.2,0.2,0.2,0.2,0.2,0.2,0.2,0.2,0.2,0.2,0.2,0.2,0.2,0.2,0.2,0.2,0.2,0.2,0.2,0.1,0.1,0.1,0.1,0.1,0.1,0.1,0.1,0.1,0.1,0.1,0.1];

// management events: day index within season
const mowDays18=[8];const fertDays18=[23];const fertAmt18=['24.6'];
const mowDays19=[16,68];const fertDays19=[38,72];const fertAmt19=['24.9','30.9'];
const mowDays22=[9,34,68];const fertDays22=[26,48,83];const fertAmt22=['78.5','43.2','55.9'];
const mowDays23=[9,41,67];const fertDays23=[16,81];const fertAmt23=['53.2','59.3'];

// ---------- RENDER ----------
const NS='http://www.w3.org/2000/svg';
const svg=document.getElementById('chart');
function mk(tag,attrs,parent){const e=document.createElementNS(NS,tag);for(const k in attrs)e.setAttribute(k,attrs[k]);(parent||svg).appendChild(e);return e;}
const SEG=[150,483,812,1142];const DW=3.6;const X0=150,X1=1463;
function xDay(y,i){return SEG[y]+1+i*DW+DW/2;}
const yA=v=>189-v*2.45;
const yB=t=>308-(t-20)*10.3;
const ySW=s=>591-(s-20)*5.17;
const yVP=v=>591-v*7.75;
const yS=s=>935-s*34.4;
const yG=g=>1268-g*34.4;

const ppfdS=[ppfd18,ppfd19,ppfd22,ppfd23];
const taS=[ta18,ta19,ta22,ta23],tsS=[ts18,ts19,ts22,ts23];
const swcS=[swc18,swc19,swc22,swc23],vpdS=[vpd18,vpd19,vpd22,vpd23];
const gppS=[gpp18,gpp19,gpp22,gpp23];
const shap=[
 {prec:s18_prec,vpd:s18_vpd,swc:s18_swc,ta:s18_ta,dn:s18_dn,dsu:s18_dsu,ts:s18_ts,ppfd:s18_ppfd},
 {prec:s19_prec,vpd:s19_vpd,swc:s19_swc,ta:s19_ta,dn:s19_dn,dsu:s19_dsu,ts:s19_ts,ppfd:s19_ppfd},
 {prec:s22_prec,vpd:s22_vpd,swc:s22_swc,ta:s22_ta,dn:s22_dn,dsu:s22_dsu,ts:s22_ts,ppfd:s22_ppfd},
 {prec:s23_prec,vpd:s23_vpd,swc:s23_swc,ta:s23_ta,dn:s23_dn,dsu:s23_dsu,ts:s23_ts,ppfd:s23_ppfd}];
const order=['prec','vpd','swc','ta','dn','dsu','ts','ppfd'];
const colors={prec:'#e0f3f8',vpd:'#91bfdb',swc:'#4575b4',ta:'#fee090',dn:'#999933',dsu:'#bdbdbd',ts:'#fc8d59',ppfd:'#d73027'};
const mows=[mowDays18,mowDays19,mowDays22,mowDays23],ferts=[fertDays18,fertDays19,fertDays22,fertDays23],famts=[fertAmt18,fertAmt19,fertAmt22,fertAmt23];

function txt(x,y,s,size,anchor,fill,parent){const t=mk('text',{x:x,y:y,'font-size':size,'text-anchor':anchor||'start',fill:fill||'#000'},parent);t.textContent=s;return t;}

const panels=[[27,196],[228,397],[428,598],[628,1311]];
const gA=mk('g',{});


ppfdS.forEach((arr,y)=>arr.forEach((v,i)=>{
 const r=mk('rect',{x:xDay(y,i)-DW/2,y:yA(v),width:DW+0.3,height:yA(-1)-yA(v),fill:'#d73027'},gA);
 
 
}));
function line(arrs,yf,col,w,name){
 arrs.forEach((arr,y)=>{
  const p=arr.map((v,i)=>(i?'L':'M')+xDay(y,i).toFixed(1)+','+yf(v).toFixed(1)).join('');
  const e=mk('path',{d:p,fill:'none',stroke:col,'stroke-width':w,'stroke-linejoin':'round'});
  
  
 });
}
line(taS,yB,'#fee090',3,'ta-line');
line(tsS,yB,'#fc8d59',3,'ts-line');
line(vpdS,yVP,'#91bfdb',3,'vpd-line');
line(swcS,ySW,'#4575b4',3,'swc-line');

const gD=mk('g',{});


shap.forEach((S,y)=>{
 const n=S.ppfd.length;
 for(let i=0;i<n;i++){
  let pos=0,neg=0;
  order.forEach(k=>{
   const v=S[k][i]||0;let a,b;
   if(v>=0){a=pos;b=pos+v;pos=b;}else{a=neg;b=neg+v;neg=b;}
   const y1=Math.min(yS(a),yS(b)),h=Math.abs(yS(a)-yS(b));
   if(h<0.01)return;
   const r=mk('rect',{x:xDay(y,i)-1.6,y:y1,width:3.2,height:h,fill:colors[k]},gD);
   
   
  });
 }
});
const zl=mk('line',{x1:X0,x2:X1,y1:yS(0),y2:yS(0),stroke:'#000','stroke-width':1.5});


gppS.forEach((arr,y)=>{
 const p=arr.map((v,i)=>(i?'L':'M')+xDay(y,i).toFixed(1)+','+yG(GPP_BASE+v).toFixed(1)).join('');
 const e=mk('path',{d:p,fill:'none',stroke:'#000','stroke-width':1.5});
 
 
 arr.forEach((v,i)=>{
  const c=mk('circle',{cx:xDay(y,i),cy:yG(GPP_BASE+v),r:3,fill:'#000'});
  
  
 });
});
mows.forEach((arr,y)=>arr.forEach(d=>{
 const r=mk('rect',{x:xDay(y,d)-9,y:654,width:18,height:18,fill:'#bdbdbd',stroke:'#333','stroke-width':1.2});
 
 
}));
ferts.forEach((arr,y)=>arr.forEach((d,j)=>{
 const x=xDay(y,d);
 const t=mk('path',{d:`M${x-12},653L${x+12},653L${x},673Z`,fill:'#999933',stroke:'#333','stroke-width':1.2});
 
 
 const l=txt(x,692,famts[y][j],18,'middle');
 
 
}));

panels.forEach(([t,b],pi)=>{
 const f=mk('rect',{x:X0,y:t,width:X1-X0,height:b-t,fill:'none',stroke:'#000','stroke-width':1.5});
 
 
 const bl=mk('line',{x1:X0,x2:X1,y1:b,y2:b,stroke:'#000','stroke-width':3});
 
 
 SEG.slice(1).forEach(x=>{const s=mk('line',{x1:x,x2:x,y1:t,y2:b,stroke:'#000','stroke-width':1.2});
  
  });
 SEG.forEach((s,y)=>monthTickDays.forEach((d,m)=>{
  const x=s+1+d*DW;
  const k=mk('line',{x1:x,x2:x,y1:b,y2:b+14,stroke:'#444','stroke-width':1});
  
  
  if(pi===3){const l=txt(x,1343,monthTicks[m],20,'middle','#555');
   
   }
 }));
});
function yTicks(vals,yf,side){
 vals.forEach(v=>{
  const y=yf(v);
  const x=side==='l'?X0:X1;
  const k=mk('line',{x1:x,x2:side==='l'?x-8:x+8,y1:y,y2:y,stroke:'#444','stroke-width':1});
  
  
  const l=txt(side==='l'?x-12:x+12,y+7,String(v),20,side==='l'?'end':'start','#555');
  
  
 });
}
yTicks(ppfdTicks,yA,'l');yTicks(tTicks,yB,'l');yTicks(swcTicks,ySW,'l');yTicks(vpdTicks,yVP,'r');
yTicks(shapTicks,yS,'l');yTicks(gppTicks,yG,'r');

['(a)','(b)','(c)','(d)'].forEach((s,i)=>{const y=[55,263,455,725][i];const l=txt(154,y,s,24);
 
 });
years.forEach((s,i)=>{const l=txt(SEG[i]+11,1301,s,26);
 
 });

function rotTitle(x,y,html,name){
 const t=mk('text',{x:0,y:0,'font-size':24,'text-anchor':'middle',transform:`translate(${x},${y}) rotate(-90)`});
 t.innerHTML=html;
 
 
}
const sup=s=>`<tspan dy="-8" font-size="16">${s}</tspan><tspan dy="8"> </tspan>`;
rotTitle(45,112,'PPFD<tspan dy="6" font-size="16">sum</tspan>','ppfd-axis-title');
rotTitle(75,112,'(mol m'+sup('−2')+'d'+sup('−1')+')','ppfd-axis-unit');
rotTitle(45,312,'T (°C)','t-axis-title');
rotTitle(45,512,'SWC (%)','swc-axis-title');
rotTitle(1538,512,'VPD (hPa)','vpd-axis-title');
rotTitle(42,970,'SHAP value (g C m'+sup('−2')+'d'+sup('−1')+')','shap-axis-title');
rotTitle(1538,970,'GPP (g C m'+sup('−2')+'d'+sup('−1')+')','gpp-axis-title');

function legLine(x,y,col,lab,name){
 const g=mk('g',{});
 
 
 mk('line',{x1:x,x2:x+40,y1:y,y2:y,stroke:col,'stroke-width':3},g);
 txt(x+48,y+7,lab,20,'start','#000',g);
}
legLine(1188,381,'#fee090','TA','legend-ta');
legLine(1275,381,'#fc8d59','TS','legend-ts');
legLine(1168,585,'#4575b4','SWC','legend-swc');
legLine(1280,585,'#91bfdb','VPD','legend-vpd');

const gm=mk('g',{});


txt(992,1214,'Management',17,'start','#000',gm);
mk('rect',{x:999,y:1224,width:18,height:18,fill:'#bdbdbd',stroke:'#333','stroke-width':1.2},gm);
txt(1042,1240,'Mowing',17,'start','#000',gm);
mk('path',{d:'M996,1252L1020,1252L1008,1272Z',fill:'#999933',stroke:'#333','stroke-width':1.2},gm);
txt(1008,1289,'24.6',12,'middle','#000',gm);
txt(1042,1267,'Fertilization',17,'start','#000',gm);
const kg=txt(1050,1290,'kg N ha',17,'start','#000',gm);
const ks=mk('tspan',{dy:-7,'font-size':11},kg);ks.textContent='-1';

const gl=mk('g',{});


mk('line',{x1:1152,x2:1172,y1:1207,y2:1207,stroke:'#000','stroke-width':1.2},gl);
mk('circle',{cx:1162,cy:1207,r:2.5,fill:'#000'},gl);
txt(1178,1213,'GPP',17,'start','#000',gl);
txt(1235,1213,'Drivers',17,'start','#000',gl);
const legItems=[['ppfd','PPFD',1236,1223],['ts','TS',1236,1245],['dsu','DaySinceUse',1236,1267],['dn','DailyN',1236,1289],
 ['ta','TA',1378,1223],['swc','SWC',1378,1245],['vpd','VPD',1378,1267],['prec','PREC',1378,1289]];
legItems.forEach(([k,lab,x,y])=>{
 const r=mk('rect',{x:x,y:y,width:20,height:20,fill:colors[k]},gl);
 
 
 const t=txt(x+28,y+16,lab,17,'start','#000',gl);
 
 
});
</script>
</body></html>
